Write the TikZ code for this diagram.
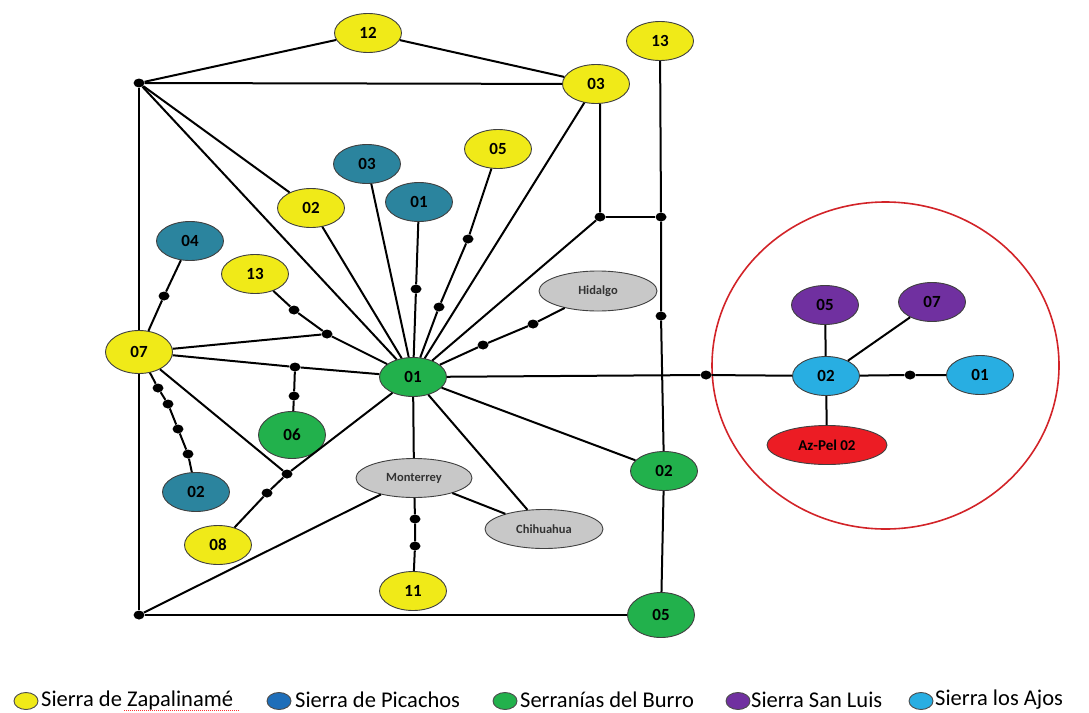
\documentclass[tikz,border=0pt]{standalone}
\usepackage{fontspec}
\setmainfont{Carlito}
\usetikzlibrary{shapes.geometric}
\definecolor{zapa}{RGB}{240,234,24}
\definecolor{pica}{RGB}{43,132,158}
\definecolor{picaleg}{RGB}{30,110,185}
\definecolor{burro}{RGB}{34,177,76}
\definecolor{sanluis}{RGB}{112,48,160}
\definecolor{ajos}{RGB}{40,174,226}
\definecolor{azred}{RGB}{236,28,36}
\definecolor{ringred}{RGB}{210,35,40}
\definecolor{city}{RGB}{200,200,200}
\tikzset{
	hap/.style={ellipse, draw=black!75, line width=0.9pt, minimum width=67pt, minimum height=39pt, inner sep=0pt, font=\fontsize{17}{17}\selectfont\bfseries},
	zap/.style={hap, fill=zapa},
	picachos/.style={hap, fill=pica},
	burr/.style={hap, fill=burro},
	slu/.style={hap, fill=sanluis},
	ajo/.style={hap, fill=ajos},
	town/.style={hap, fill=city, minimum width=118pt, font=\fontsize{12.5}{12.5}\selectfont\bfseries, text=black!80},
	mv/.style={ellipse, fill=black, minimum width=11pt, minimum height=9pt, inner sep=0pt},
	link/.style={draw=black, line width=2pt},
	legdot/.style={ellipse, draw=black!70, line width=0.9pt, minimum width=24pt, minimum height=17pt, inner sep=0pt},
	legtext/.style={anchor=west, inner sep=0pt, font=\fontsize{22.5}{22.5}\selectfont}
}

\begin{document}
\begin{tikzpicture}[x=1pt, y=-1pt]
		%%%%% START %%%%%
		\useasboundingbox (0,0) rectangle (1089,712);
		
		\node[ellipse, draw=ringred, line width=1.6pt, minimum width=347pt, minimum height=327pt] (ring) at (885.5,365.5) {};
		
		% haplotypes
		\node[zap] (z12) at (368,33) {12};
		\node[zap] (z03) at (596,84) {03};
		\node[zap] (z13n) at (660,41) {13};
		\node[zap] (z05) at (498,149) {05};
		\node[zap] (z02) at (311,208) {02};
		\node[zap] (z13) at (255,274) {13};
		\node[zap, minimum height=43pt] (z07) at (139,352) {07};
		\node[zap] (z08) at (218,545) {08};
		\node[zap] (z11) at (413,591) {11};
		
		\node[picachos] (p03) at (367,164) {03};
		\node[picachos] (p01) at (419,202) {01};
		\node[picachos] (p04) at (190,241) {04};
		\node[picachos] (p02) at (196,492) {02};
		
		\node[burr] (b01) at (413,377) {01};
		\node[burr, minimum height=47pt] (b06) at (292,435) {06};
		\node[burr] (b02) at (664,471) {02};
		\node[burr, minimum height=45pt] (b05) at (661,615) {05};
		
		\node[town, minimum height=40pt] (hid) at (598,291) {Hidalgo};
		\node[town, minimum width=116pt] (mty) at (414,478) {Monterrey};
		\node[town] (chih) at (544,529) {Chihuahua};
		
		\node[slu] (s05) at (825,305) {05};
		\node[slu] (s07) at (932,302) {07};
		\node[ajo] (a02) at (826,376) {02};
		\node[ajo] (a01) at (980,375) {01};
		\node[hap, fill=azred, minimum width=120pt, font=\fontsize{15}{15}\selectfont\bfseries] (azpel) at (827,445) {Az-Pel 02};
		
		% median vectors
		\node[mv] (tl) at (139,83) {};
		\node[mv] (bl) at (139,615) {};
		\node[mv] (j03) at (600,217) {};
		\node[mv] (j13) at (661,217) {};
		\node[mv] (v13) at (661,316) {};
		\node[mv] (vr) at (706,375) {};
		\node[mv] (va) at (910,375) {};
		\node[mv] (vp04) at (164,296) {};
		\node[mv] (vz13a) at (294,310) {};
		\node[mv] (vz13b) at (327,334) {};
		\node[mv] (vp01) at (416,289) {};
		\node[mv] (vz05a) at (468,239) {};
		\node[mv] (vz05b) at (439,307) {};
		\node[mv] (vh1) at (533,324) {};
		\node[mv] (vh2) at (483,345) {};
		\node[mv] (vb06a) at (295,367) {};
		\node[mv] (vb06b) at (294,396) {};
		\node[mv] (vp02a) at (158,388) {};
		\node[mv] (vp02b) at (168,404) {};
		\node[mv] (vp02c) at (178,429) {};
		\node[mv] (vp02d) at (188,454) {};
		\node[mv] (vx) at (287,474) {};
		\node[mv] (vz08) at (267,493) {};
		\node[mv] (vz11a) at (415,519) {};
		\node[mv] (vz11b) at (415,546) {};
		
		% links
		\draw[link] (tl) -- (z12) -- (z03) -- (tl);
		\draw[link] (tl) -- (z07) -- (bl) -- (b05);
		\draw[link] (tl) -- (z02) -- (b01);
		\draw[link] (tl) -- (b01);
		\draw[link] (p03) -- (b01);
		\draw[link] (p01) -- (vp01) -- (b01);
		\draw[link] (z05) -- (vz05a) -- (vz05b) -- (b01);
		\draw[link] (z03) -- (b01);
		\draw[link] (z03.south -| j03) -- (j03) -- (b01);
		\draw[link] (j03) -- (j13);
		\draw[link] (z13n) -- (j13) -- (v13) -- (b02) -- (b05);
		\draw[link] (hid) -- (vh1) -- (vh2) -- (b01);
		\draw[link] (z13) -- (vz13a) -- (vz13b) -- (b01);
		\draw[link] (z07) -- (vz13b);
		\draw[link] (z07) -- (vb06a) -- (b01);
		\draw[link] (vb06a) -- (vb06b) -- (b06);
		\draw[link] (p04) -- (vp04) -- (z07);
		\draw[link] (z07) -- (vp02a) -- (vp02b) -- (vp02c) -- (vp02d) -- (p02);
		\draw[link] (z07) -- (vx) -- (b01);
		\draw[link] (vx) -- (vz08) -- (z08);
		\draw[link] (b01) -- (mty) -- (vz11a) -- (vz11b) -- (z11);
		\draw[link] (mty) -- (chih);
		\draw[link] (b01) -- (chih);
		\draw[link] (b01) -- (b02);
		\draw[link] (mty) -- (bl);
		\draw[link] (b01) -- (vr) -- (a02);
		\draw[link] (a02) -- (s05);
		\draw[link] (a02) -- (s07);
		\draw[link] (a02) -- (va) -- (a01);
		\draw[link] (a02) -- (azpel);
		
		% legend
		\node[legdot, fill=zapa] (lz) at (26,701) {};
		\node[legtext] (tz) at (41,700) {Sierra de Zapalinamé};
		\node[legdot, fill=picaleg] (lp) at (279,701) {};
		\node[legtext] (tp) at (295,700) {Sierra de Picachos};
		\node[legdot, fill=burro] (lb) at (505,701) {};
		\node[legtext] (tb) at (520,700) {Serranías del Burro};
		\node[legdot, fill=sanluis] (ls) at (738,701) {};
		\node[legtext] (ts) at (751,700) {Sierra San Luis};
		\node[legdot, fill=ajos] (la) at (921,701) {};
		\node[legtext] (ta) at (935,700) {Sierra los Ajos};
		\draw[red!80, densely dotted, line width=1pt] (124,710.5) -- (240,710.5);
		
		%%%%% END %%%%%
	\end{tikzpicture}
\end{document}
